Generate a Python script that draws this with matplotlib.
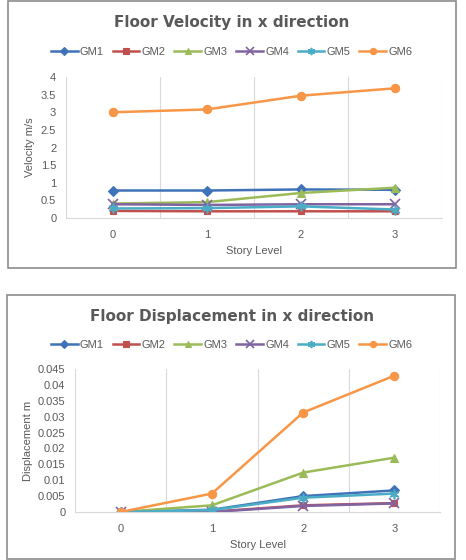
import matplotlib
matplotlib.use("Agg")
import matplotlib.pyplot as plt
from matplotlib.patches import Rectangle

levels = [0, 1, 2, 3]
names = ["GM1", "GM2", "GM3", "GM4", "GM5", "GM6"]

vel_gm1 = [0.78, 0.78, 0.81, 0.80]
vel_gm2 = [0.20, 0.19, 0.19, 0.19]
vel_gm3 = [0.41, 0.45, 0.71, 0.86]
vel_gm4 = [0.39, 0.37, 0.39, 0.39]
vel_gm5 = [0.27, 0.28, 0.33, 0.24]
vel_gm6 = [3.00, 3.08, 3.47, 3.68]

disp_gm1 = [0.0, 0.0007, 0.0050, 0.0068]
disp_gm2 = [0.0, 0.0001, 0.0021, 0.0028]
disp_gm3 = [0.0, 0.0021, 0.0124, 0.0171]
disp_gm4 = [0.0, 0.0000, 0.0019, 0.0027]
disp_gm5 = [0.0, 0.0006, 0.0045, 0.0058]
disp_gm6 = [0.0, 0.0058, 0.0313, 0.0429]

colors = ["#3F72B8", "#C0504D", "#9BBB59", "#8064A2", "#4BACC6", "#F79646"]
markers = ["D", "s", "^", "x", (6, 2, 0), "o"]
msizes = [5, 5, 6, 7, 7, 6]

txt = "#595959"
plt.rcParams["font.family"] = ["Liberation Sans", "DejaVu Sans"]

fig = plt.figure(figsize=(4.66, 5.6), dpi=100)

# chart boxes
for (x0, y0, x1, y1) in [(8, 1, 456, 268), (7, 295, 455, 559)]:
    fig.patches.append(Rectangle((x0 / 466, 1 - y1 / 560), (x1 - x0) / 466, (y1 - y0) / 560,
                                 transform=fig.transFigure, fill=False,
                                 edgecolor="#8C8C8C", linewidth=1.2))


def draw(ax, series, ymax, ystep, yfmt, ylabel, title, title_y, leg_y, ylab_x):
    for i, vals in enumerate(series):
        ax.plot(levels, vals, color=colors[i], marker=markers[i], markersize=msizes[i],
                linewidth=1.8, markeredgewidth=1.2 if i in (3, 4) else 0.8, label=names[i])
    ax.set_xlim(-0.5, 3.5)
    ax.set_ylim(0, ymax)
    ticks = [k * ystep for k in range(int(round(ymax / ystep)) + 1)]
    ax.set_yticks(ticks)
    ax.set_yticklabels([yfmt(t) for t in ticks])
    ax.set_xticks(levels)
    ax.set_xticks([-0.5, 0.5, 1.5, 2.5, 3.5], minor=True)
    ax.grid(True, which="minor", axis="x", color="#D9D9D9", linewidth=0.8)
    ax.tick_params(which="both", length=0, colors=txt, labelsize=8)
    ax.tick_params(axis="y", pad=7)
    ax.tick_params(axis="x", pad=9)
    for s in ["top", "right", "left"]:
        ax.spines[s].set_visible(False)
    ax.spines["bottom"].set_color("#D9D9D9")
    ax.set_xlabel("Story Level", color=txt, fontsize=8, labelpad=4)
    ax.set_ylabel(ylabel, color=txt, fontsize=8)
    ax.yaxis.set_label_coords(ylab_x, 0.5)
    fig.text(0.497, title_y, title, ha="center", va="center", fontsize=11,
             fontweight="bold", color=txt, family="DejaVu Sans")
    h, l = ax.get_legend_handles_labels()
    fig.legend(h, l, loc="center", bbox_to_anchor=(0.497, leg_y), ncol=6, frameon=False,
               fontsize=8, handlelength=2.4, columnspacing=0.8, handletextpad=0.2,
               markerscale=0.75, labelcolor=txt)


def fmt(t):
    s = ("%.3f" % t).rstrip("0").rstrip(".")
    return s if s else "0"


ax1 = fig.add_axes([66 / 466, 1 - 218 / 560, 376 / 466, 141 / 560])
draw(ax1, [vel_gm1, vel_gm2, vel_gm3, vel_gm4, vel_gm5, vel_gm6], 4, 0.5, fmt,
     "Velocity m/s", "Floor Velocity in x direction", 1 - 23 / 560, 1 - 52 / 560, -0.082)

ax2 = fig.add_axes([75 / 466, 1 - 512 / 560, 365 / 466, 143 / 560])
draw(ax2, [disp_gm1, disp_gm2, disp_gm3, disp_gm4, disp_gm5, disp_gm6], 0.045, 0.005, fmt,
     "Displacement m", "Floor Displacement in x direction", 1 - 316 / 560, 1 - 345 / 560, -0.115)

fig.savefig("out.png", dpi=100, facecolor="white")
